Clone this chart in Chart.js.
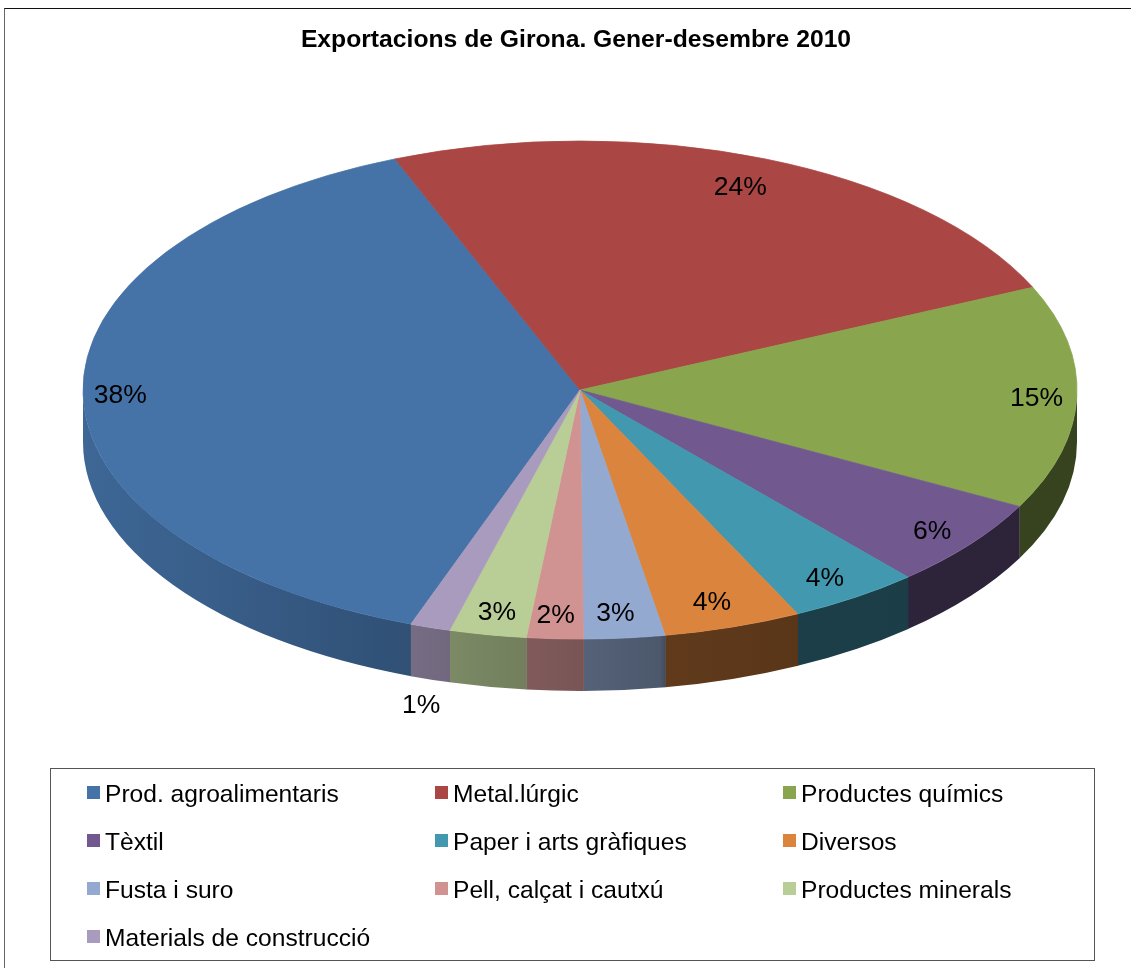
<!DOCTYPE html>
<html>
<head>
<meta charset="utf-8">
<title>Exportacions de Girona</title>
<script src="https://cdn.jsdelivr.net/npm/chart.js@4"></script>
<style>
    html, body { margin: 0; padding: 0; background: #fff; overflow: hidden; }
    #wrap { position: relative; width: 1131px; height: 968px; font-family: "Liberation Sans", Arial, sans-serif; }
    #frame { position: absolute; left: 4px; top: 8px; right: -4px; bottom: -4px; border-top: 1px solid #111; border-left: 1px solid #666; }
    canvas { position: absolute; left: 0; top: 0; }
    #legend {
        position: absolute; left: 50px; top: 768px; width: 1043px; height: 191px;
        border: 1px solid #555; box-sizing: content-box;
        display: grid; grid-template-columns: 348px 348px 348px; grid-auto-rows: 48px;
    }
    #legend .item { display: flex; align-items: center; padding-left: 36px; padding-top: 2px; font-size: 24.6px; color: #000; white-space: nowrap; }
    #legend .swatch { width: 13px; height: 13px; margin-right: 5px; margin-top: -4px; flex: none; }
</style>
</head>
<body>
<div id="wrap">
    <div id="frame"></div>
    <canvas id="chart" width="1131" height="968"></canvas>
    <div id="legend"></div>
</div>
<script>
const title = "Exportacions de Girona. Gener-desembre 2010";
const categories = ["Prod. agroalimentaris", "Metal.lúrgic", "Productes químics", "Tèxtil", "Paper i arts gràfiques", "Diversos", "Fusta i suro", "Pell, calçat i cautxú", "Productes minerals", "Materials de construcció"];
const shares = [38.37, 24.28, 14.5, 5.78, 4.25, 4.47, 2.63, 1.83, 2.5, 1.3];
const colors = ["#4572A7", "#AA4643", "#89A54E", "#71588F", "#4198AF", "#DB843D", "#93A9CF", "#D19392", "#B9CD96", "#A99BBD"];

// label distance from the centre, as a fraction of the radius (x and y)
const labelRadiusX = [0.925, 0.865, 0.919, 0.903, 0.89, 0.862, 0.80, 0.96, 0.9, 1.06];
const labelRadiusY = [0.9, 0.883, 0.9, 0.905, 0.9, 0.89, 0.895, 0.9, 0.9, 1.32];

// look of the tilted pie
const centerX = 580;
const centerY = 390;
const radius = 497;
const tilt = 0.501;
const depth = 52;
const labelDrop = 2;
// how dark the side wall gets from left to right: [x, brightness]
const wallShade = [[83, 0.9], [410, 0.7], [480, 0.65], [580, 0.58], [660, 0.52], [666, 0.44], [800, 0.41], [1077, 0.4]];

function shade(hex, f) {
    let n = parseInt(hex.slice(1), 16);
    let r = Math.round((n >> 16 & 255) * f);
    let g = Math.round((n >> 8 & 255) * f);
    let b = Math.round((n & 255) * f);
    return `rgb(${r},${g},${b})`;
}

const pie3d = {
    id: 'pie3d',
    beforeDatasetsDraw(chart) {
        let ctx = chart.ctx;
        let arcs = chart.getDatasetMeta(0).data;
        // side wall: only the part of each slice that faces the viewer
        arcs.forEach((arc, i) => {
            for (let k = 0; k < 2; k++) {
                let from = Math.max(arc.startAngle, 2 * Math.PI * k);
                let to = Math.min(arc.endAngle, 2 * Math.PI * k + Math.PI);
                if (to <= from) continue;
                // small overlap so no light seam shows between walls
                from = Math.max(from - 0.001, 2 * Math.PI * k);
                let grad = ctx.createLinearGradient(83, 0, 1077, 0);
                for (let s of wallShade) {
                    grad.addColorStop((s[0] - 83) / (1077 - 83), shade(colors[i], s[1]));
                }
                ctx.beginPath();
                ctx.ellipse(centerX, centerY, radius, radius * tilt, 0, from, to);
                ctx.ellipse(centerX, centerY + depth, radius, radius * tilt, 0, to, from, true);
                ctx.closePath();
                ctx.fillStyle = grad;
                ctx.fill();
            }
        });
        // the library's own arcs get squashed into the ellipse
        ctx.save();
        ctx.translate(centerX, centerY);
        ctx.scale(1, tilt);
        ctx.translate(-arcs[0].x, -arcs[0].y);
    },
    afterDatasetsDraw(chart) {
        let ctx = chart.ctx;
        ctx.restore();
        ctx.save();
        ctx.font = '26.5px "Liberation Sans"';
        ctx.fillStyle = '#000';
        ctx.textAlign = 'center';
        ctx.textBaseline = 'middle';
        chart.getDatasetMeta(0).data.forEach((arc, i) => {
            let mid = (arc.startAngle + arc.endAngle) / 2;
            let x = centerX + Math.cos(mid) * radius * labelRadiusX[i];
            let y = centerY + labelDrop + Math.sin(mid) * radius * tilt * labelRadiusY[i];
            ctx.fillText(Math.round(shares[i]) + '%', x, y);
        });
        ctx.restore();
    }
};

new Chart(document.getElementById('chart'), {
    type: 'pie',
    data: {
        labels: categories,
        datasets: [{
            data: shares,
            backgroundColor: colors,
            borderColor: colors,
            borderWidth: 1,
            radius: radius,
            rotation: 199.9,
            clip: false
        }]
    },
    options: {
        responsive: false,
        devicePixelRatio: 1,
        animation: false,
        layout: { padding: { left: 21 } },
        plugins: {
            legend: { display: false },
            tooltip: { enabled: false },
            title: {
                display: true,
                text: title,
                color: '#000',
                font: { family: '"Liberation Sans"', size: 24.7, weight: 'bold' },
                padding: { top: 25, bottom: 10 }
            }
        }
    },
    plugins: [pie3d]
});

// legend sits in a three column grid
let legend = document.getElementById('legend');
categories.forEach((name, i) => {
    let item = document.createElement('div');
    item.className = 'item';
    let swatch = document.createElement('span');
    swatch.className = 'swatch';
    swatch.style.background = colors[i];
    item.appendChild(swatch);
    item.appendChild(document.createTextNode(name));
    legend.appendChild(item);
});
</script>
</body>
</html>
